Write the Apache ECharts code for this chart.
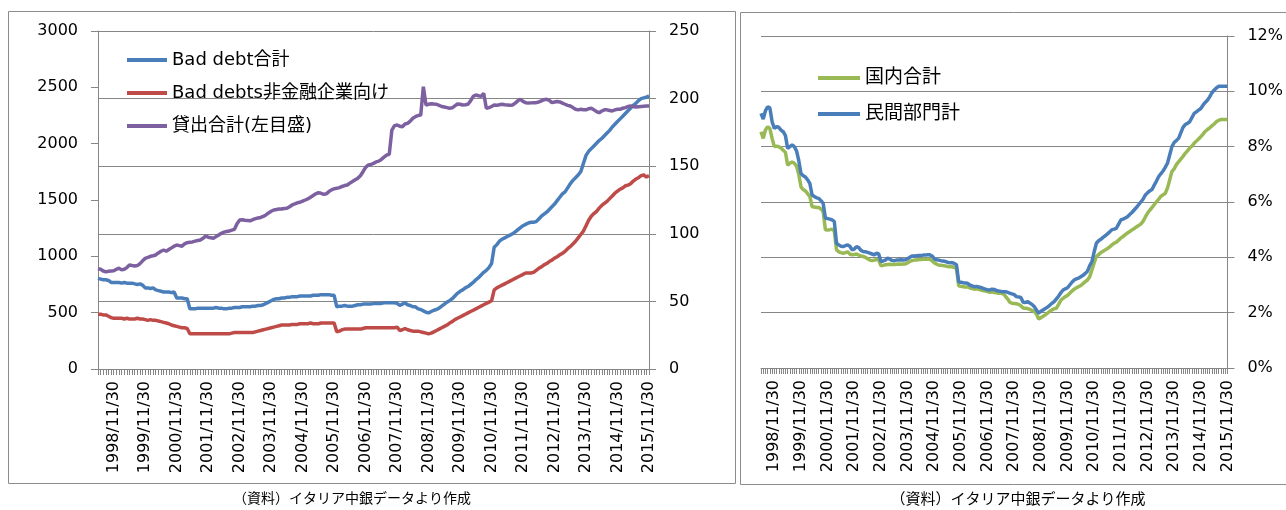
<!DOCTYPE html>
<html>
<head>
<meta charset="utf-8">
<script src="https://cdn.jsdelivr.net/npm/echarts/dist/echarts.min.js"></script>
<style>html,body{margin:0;padding:0;background:#fff}#c{width:1286px;height:510px}</style>
</head>
<body>
<div id="c"></div>
<script>
// Monthly categories: 1998/05 .. 2015/11 (month-end dates)
const dates = [];
for (let y = 1998, m = 5; y < 2015 || (y === 2015 && m <= 11); ) {
  const d = new Date(y, m, 0).getDate();
  dates.push(y + '/' + m + '/' + d);
  m++; if (m > 12) { m = 1; y++; }
}

// Left chart: Bad debt total (right scale, bn EUR)
const badDebtTotal = [
  67, 66.5, 66, 66, 65.5, 64, 64, 64, 64, 63.5, 64, 63.5,
  63.5, 63.5, 63, 62.5, 63, 62, 60, 60, 59.5, 60, 58.5, 58,
  57.5, 57, 57, 57, 56.5, 57, 52.5, 52.5, 52.5, 52, 52, 44.5,
  44.5, 44.5, 45, 45, 45, 45, 45, 45, 45, 45.5, 45, 45,
  44.5, 44.5, 45, 45, 45.5, 45.5, 45.5, 46, 46, 46, 46, 46.5,
  46.5, 47, 47, 47.5, 48.5, 49.5, 50.5, 51.5, 52, 52, 52.5, 52.5,
  53, 53, 53.5, 53.5, 53.5, 54, 54, 54, 54, 54, 54.5, 54.5,
  54.5, 55, 55, 55, 55, 54.5, 54.5, 46, 46.5, 46.5, 47, 46.5,
  46.5, 46.5, 47, 47.5, 47.5, 48, 48, 48, 48, 48.5, 48.5, 48.5,
  48.5, 49, 49, 49, 49, 49, 48.5, 47, 48, 49, 47.5, 47,
  46, 46, 44.5, 44, 43, 42, 41.5, 42.5, 43.5, 44, 45, 46.5,
  48, 49.5, 50.5, 52, 54, 56, 57.5, 58.5, 60, 61, 62.5, 64,
  66, 67.5, 69.5, 71.5, 73, 75, 78, 90, 92, 94.5, 96, 97,
  98, 99, 100, 101.5, 103, 104.5, 106, 107, 108, 108.5, 108.5, 109,
  111, 113, 114.5, 116, 118, 120, 122, 124.5, 127, 129.5, 131, 134,
  137, 139.5, 141.5, 143.5, 146, 152, 158, 161, 163, 165, 167, 169,
  170.5, 172.5, 174.5, 176.5, 179, 181, 183, 185, 187, 189, 191, 193,
  195, 196.5, 198.5, 200, 200.5, 201, 202
];

// Left chart: Bad debts to non-financial corporations (right scale)
const badDebtNFC = [
  40.5, 40.5, 40, 40, 39, 38, 37.5, 37.5, 37.5, 37.5, 37, 37.5,
  37, 37, 37, 37.5, 37, 37, 36.5, 36, 36.5, 36, 36, 35.5,
  35, 34.5, 34, 33.5, 32.5, 32, 31.5, 31, 30.5, 30.5, 30, 26,
  26, 26, 26, 26, 26, 26, 26, 26, 26, 26, 26, 26,
  26, 26, 26, 26.5, 27, 27, 27, 27, 27, 27, 27, 27,
  27.5, 28, 28.5, 29, 29.5, 30, 30.5, 31, 31.5, 32, 32.5, 32.5,
  32.5, 32.5, 33, 33, 33, 33.5, 33.5, 33.5, 33.5, 34, 33.5, 33.5,
  33.5, 34, 34, 34, 34, 34, 34, 27.5, 28, 29, 29.5, 29.5,
  29.5, 29.5, 29.5, 29.5, 29.5, 30, 30.5, 30.5, 30.5, 30.5, 30.5, 30.5,
  30.5, 30.5, 30.5, 30.5, 30.5, 30.5, 31, 28.5, 29, 30, 29, 28.5,
  28, 28, 28, 27.5, 27, 26.5, 26, 26.5, 27.5, 28.5, 29.5, 30.5,
  31.5, 32.5, 34, 35, 36.5, 37.5, 38.5, 39.5, 40.5, 41.5, 42.5, 43.5,
  44.5, 45.5, 46.5, 47.5, 48.5, 49.5, 50.5, 58.5, 60, 61, 62, 63,
  64, 65, 66, 67, 68, 69, 70, 71, 71, 71, 71.5, 73,
  74.5, 75.5, 77, 78, 79.5, 80.5, 82, 83, 84.5, 85.5, 87, 89,
  90.5, 92.5, 94.5, 97, 99.5, 102, 106, 110, 113, 115, 116.5, 119,
  121, 122.5, 124, 126, 128, 130, 131.5, 133, 134, 135.5, 136, 137,
  139, 140.5, 141.5, 143, 143.5, 142, 143
];

// Left chart: Total loans (left scale)
const loansTotal = [
  890, 885, 870, 862, 868, 870, 872, 885, 895, 880, 885, 900,
  923, 918, 915, 918, 935, 960, 982, 990, 1000, 1005, 1012, 1030,
  1045, 1056, 1045, 1060, 1075, 1090, 1100, 1095, 1090, 1110, 1121, 1125,
  1128, 1135, 1140, 1145, 1160, 1180, 1170, 1165, 1160, 1175, 1190, 1205,
  1215, 1220, 1225, 1232, 1240, 1290, 1322, 1325, 1320, 1318, 1315, 1325,
  1335, 1340, 1345, 1355, 1367, 1385, 1400, 1411, 1415, 1420, 1420, 1425,
  1426, 1440, 1456, 1465, 1475, 1480, 1490, 1500, 1510, 1525, 1540, 1555,
  1565, 1560, 1550, 1555, 1575, 1590, 1600, 1604, 1610, 1620, 1628, 1633,
  1650, 1665, 1680, 1692, 1715, 1751, 1790, 1811, 1815, 1825, 1838, 1845,
  1860, 1880, 1899, 1905, 2121, 2160, 2166, 2155, 2150, 2175, 2181, 2200,
  2225, 2240, 2250, 2254, 2506, 2343, 2350, 2355, 2352, 2350, 2340, 2330,
  2325, 2320, 2314, 2318, 2335, 2352, 2350, 2343, 2345, 2350, 2380, 2420,
  2432, 2425, 2420, 2447, 2314, 2320, 2330, 2343, 2340, 2345, 2350, 2345,
  2343, 2340, 2343, 2360, 2380, 2394, 2375, 2364, 2360, 2362, 2364, 2364,
  2370, 2380, 2390, 2394, 2385, 2364, 2370, 2375, 2370, 2360, 2350, 2340,
  2334, 2320, 2305, 2300, 2305, 2302, 2300, 2310, 2314, 2300, 2285, 2275,
  2290, 2300, 2300, 2295, 2290, 2300, 2305, 2305, 2315, 2320, 2330, 2334,
  2330, 2325, 2328, 2330, 2332, 2334, 2334
];

// Right chart: bad debt ratio, domestic total (%)
const ratioDomestic = [
  8.54, 8.3, 8.6, 8.72, 8.65, 8.3, 8.0, 8.02, 8.0, 7.95, 7.87, 7.8,
  7.33, 7.4, 7.45, 7.4, 7.3, 7.0, 6.55, 6.45, 6.4, 6.3, 6.19, 5.83,
  5.82, 5.8, 5.8, 5.75, 5.65, 5.0, 4.99, 5.0, 5.02, 4.95, 4.27, 4.2,
  4.17, 4.15, 4.17, 4.2, 4.12, 4.09, 4.1, 4.12, 4.08, 4.05, 4.03, 4.0,
  3.95, 3.9, 3.88, 3.9, 3.92, 3.9, 3.69, 3.71, 3.73, 3.74, 3.75, 3.74,
  3.74, 3.75, 3.76, 3.75, 3.76, 3.76, 3.8, 3.85, 3.88, 3.9, 3.9, 3.92,
  3.92, 3.93, 3.93, 3.93, 3.93, 3.88, 3.8, 3.76, 3.72, 3.71, 3.7, 3.69,
  3.67, 3.66, 3.66, 3.63, 3.61, 2.97, 2.95, 2.94, 2.93, 2.93, 2.9, 2.87,
  2.85, 2.86, 2.84, 2.82, 2.8, 2.78, 2.76, 2.74, 2.75, 2.73, 2.72, 2.7,
  2.7, 2.68, 2.6, 2.5, 2.38, 2.34, 2.33, 2.32, 2.3, 2.25, 2.17, 2.16,
  2.15, 2.12, 2.08, 2.05, 1.95, 1.77, 1.82, 1.87, 1.92, 1.98, 2.05, 2.1,
  2.14, 2.16, 2.3, 2.45, 2.52, 2.58, 2.62, 2.7, 2.78, 2.85, 2.9, 2.94,
  2.98, 3.05, 3.12, 3.18, 3.3, 3.55, 3.8, 4.03, 4.1, 4.17, 4.22, 4.27,
  4.32, 4.38, 4.45, 4.51, 4.55, 4.62, 4.7, 4.75, 4.82, 4.88, 4.93, 4.99,
  5.04, 5.1, 5.15, 5.2, 5.3, 5.45, 5.59, 5.7, 5.8, 5.9, 6.0, 6.1,
  6.2, 6.26, 6.31, 6.5, 6.8, 7.1, 7.2, 7.35, 7.45, 7.55, 7.65, 7.76,
  7.85, 7.95, 8.02, 8.12, 8.2, 8.28, 8.36, 8.45, 8.55, 8.62, 8.68, 8.75,
  8.82, 8.9, 8.95, 8.98, 8.98, 8.98, 8.98
];

// Right chart: bad debt ratio, private sector (%)
const ratioPrivate = [
  9.2, 9.0, 9.3, 9.44, 9.4, 8.9, 8.66, 8.72, 8.7, 8.6, 8.54, 8.4,
  7.94, 8.0, 8.06, 8.0, 7.85, 7.5, 7.03, 6.95, 6.9, 6.8, 6.67, 6.25,
  6.2, 6.15, 6.13, 6.05, 5.95, 5.41, 5.4, 5.38, 5.35, 5.3, 4.51, 4.45,
  4.4, 4.39, 4.42, 4.45, 4.4, 4.27, 4.3, 4.39, 4.35, 4.25, 4.21, 4.2,
  4.18, 4.15, 4.12, 4.09, 4.15, 4.12, 3.85, 3.87, 3.9, 3.97, 3.93, 3.89,
  3.88, 3.9, 3.9, 3.91, 3.9, 3.91, 3.95, 4.0, 4.05, 4.05, 4.06, 4.07,
  4.07, 4.08, 4.08, 4.09, 4.09, 4.05, 3.95, 3.91, 3.9, 3.88, 3.87, 3.85,
  3.82, 3.8, 3.81, 3.78, 3.73, 3.12, 3.1, 3.08, 3.07, 3.06, 3.0, 2.97,
  2.94, 2.95, 2.93, 2.91, 2.88, 2.85, 2.83, 2.82, 2.85, 2.84, 2.8, 2.78,
  2.77, 2.76, 2.76, 2.74, 2.7, 2.68, 2.65, 2.58, 2.57, 2.55, 2.38, 2.37,
  2.4, 2.35, 2.3, 2.22, 2.1, 1.98, 2.05, 2.1, 2.15, 2.2, 2.27, 2.34,
  2.4, 2.5, 2.6, 2.72, 2.82, 2.86, 2.9, 3.0, 3.1, 3.18, 3.22, 3.25,
  3.3, 3.35, 3.42, 3.5, 3.7, 3.85, 4.2, 4.51, 4.6, 4.65, 4.72, 4.78,
  4.85, 4.92, 5.0, 5.02, 5.05, 5.2, 5.35, 5.38, 5.42, 5.47, 5.55, 5.62,
  5.71, 5.8, 5.9, 6.0, 6.1, 6.25, 6.33, 6.4, 6.45, 6.6, 6.75, 6.91,
  7.02, 7.12, 7.25, 7.4, 7.7, 8.0, 8.15, 8.22, 8.3, 8.5, 8.7, 8.8,
  8.84, 8.9, 9.05, 9.2, 9.26, 9.32, 9.38, 9.5, 9.6, 9.68, 9.8, 9.95,
  10.04, 10.12, 10.18, 10.18, 10.18, 10.18, 10.18
];

const leftNames = ['Bad debt合計', 'Bad debts非金融企業向け', '貸出合計(左目盛)'];
const rightNames = ['国内合計', '民間部門計'];
const caption = '（資料）イタリア中銀データより作成';

const GRAY = '#868686';
const FONT = "'DejaVu Sans', 'Noto Sans CJK JP', sans-serif";
const labelInterval = (idx, val) => String(val).split('/')[1] === '11';

function xAxisCfg(grid) {
  return {
    type: 'category', gridIndex: grid, data: dates, boundaryGap: false,
    axisLine: { show: true, lineStyle: { color: GRAY, width: 1 } },
    axisTick: { show: true, interval: 0, length: 6, lineStyle: { color: GRAY } },
    axisLabel: { interval: labelInterval, rotate: 90, margin: 12, color: '#000', fontSize: 16, fontFamily: FONT },
    splitLine: { show: false }
  };
}

const chart = echarts.init(document.getElementById('c'), null, { renderer: 'canvas' });
chart.setOption({
  animation: false,
  backgroundColor: '#fff',
  grid: [
    { left: 98, top: 31, width: 551, height: 338 },
    { left: 761, top: 36, width: 474, height: 332 }
  ],
  xAxis: [xAxisCfg(0), xAxisCfg(1)],
  yAxis: [
    { type: 'value', gridIndex: 0, position: 'left', min: 0, max: 3000, interval: 500,
      axisLine: { show: true, lineStyle: { color: GRAY } },
      axisTick: { show: true, length: 7, lineStyle: { color: GRAY } },
      axisLabel: { margin: 20, color: '#000', fontSize: 16, fontFamily: FONT, formatter: v => String(v) },
      splitLine: { show: false } },
    { type: 'value', gridIndex: 0, position: 'right', min: 0, max: 250, interval: 50,
      axisLine: { show: true, lineStyle: { color: GRAY } },
      axisTick: { show: true, length: 7, lineStyle: { color: GRAY } },
      axisLabel: { margin: 20, color: '#000', fontSize: 16, fontFamily: FONT, formatter: v => String(v) },
      splitLine: { show: true, lineStyle: { color: GRAY, width: 1 } } },
    { type: 'value', gridIndex: 1, position: 'right', min: 0, max: 12, interval: 2,
      axisLine: { show: true, lineStyle: { color: GRAY } },
      axisTick: { show: true, length: 7, lineStyle: { color: GRAY } },
      axisLabel: { margin: 20, color: '#000', fontSize: 16, fontFamily: FONT, formatter: v => v + '%' },
      splitLine: { show: true, lineStyle: { color: GRAY, width: 1 } } }
  ],
  legend: [
    { data: leftNames, orient: 'vertical', left: 122, top: 45, icon: 'rect',
      itemWidth: 40, itemHeight: 4, itemGap: 13,
      textStyle: { fontSize: 18, lineHeight: 20, color: '#000', fontFamily: FONT } },
    { data: rightNames, orient: 'vertical', left: 813, top: 62, icon: 'rect',
      itemWidth: 42, itemHeight: 4, itemGap: 14,
      textStyle: { fontSize: 19, lineHeight: 22, color: '#000', fontFamily: FONT } }
  ],
  graphic: [
    { type: 'rect', shape: { x: 8.5, y: 11.5, width: 727, height: 472 },
      style: { fill: 'none', stroke: '#8c8c8c', lineWidth: 1 }, silent: true },
    { type: 'rect', shape: { x: 740.5, y: 12.5, width: 560, height: 472 },
      style: { fill: 'none', stroke: '#8c8c8c', lineWidth: 1 }, silent: true },
    { type: 'text', x: 352, y: 498, style: { text: caption, fill: '#000', font: "14px 'Noto Sans CJK JP', sans-serif", textAlign: 'center', textVerticalAlign: 'middle' } },
    { type: 'text', x: 1018, y: 498, style: { text: caption, fill: '#000', font: "15px 'Noto Sans CJK JP', sans-serif", textAlign: 'center', textVerticalAlign: 'middle' } }
  ],
  series: [
    { name: leftNames[0], type: 'line', xAxisIndex: 0, yAxisIndex: 1, data: badDebtTotal,
      showSymbol: false, lineStyle: { width: 3.5, color: '#4A7EBB' }, itemStyle: { color: '#4A7EBB' } },
    { name: leftNames[1], type: 'line', xAxisIndex: 0, yAxisIndex: 1, data: badDebtNFC,
      showSymbol: false, lineStyle: { width: 3.5, color: '#BE4B48' }, itemStyle: { color: '#BE4B48' } },
    { name: leftNames[2], type: 'line', xAxisIndex: 0, yAxisIndex: 0, data: loansTotal,
      showSymbol: false, lineStyle: { width: 3.5, color: '#7D60A0' }, itemStyle: { color: '#7D60A0' } },
    { name: rightNames[0], type: 'line', xAxisIndex: 1, yAxisIndex: 2, data: ratioDomestic,
      showSymbol: false, lineStyle: { width: 3.5, color: '#98B954' }, itemStyle: { color: '#98B954' } },
    { name: rightNames[1], type: 'line', xAxisIndex: 1, yAxisIndex: 2, data: ratioPrivate,
      showSymbol: false, lineStyle: { width: 3.5, color: '#4A7EBB' }, itemStyle: { color: '#4A7EBB' } }
  ]
});
</script>
</body>
</html>
